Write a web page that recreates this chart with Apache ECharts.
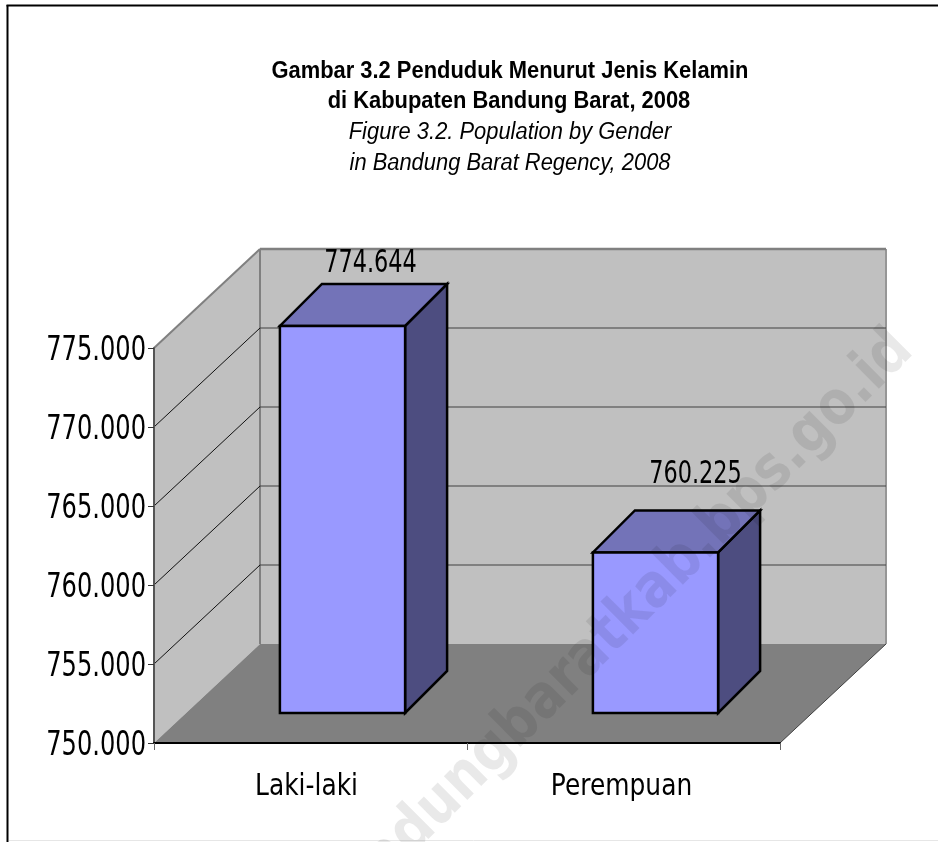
<!DOCTYPE html>
<html>
<head>
<meta charset="utf-8">
<style>html,body{margin:0;padding:0;background:#fff}#main{width:938px;height:842px}</style>
</head>
<body>
<div id="main"></div>
<script src="https://cdn.jsdelivr.net/npm/echarts@6/dist/echarts.min.js"></script>
<script>
var categories = ['Laki-laki', 'Perempuan'];
var values = [774644, 760225];
var yTicks = [750000, 755000, 760000, 765000, 770000, 775000];

// kedalaman semu 3D
var DX = 106, DY = 99;
var BAR_DX0 = 32, BAR_DY0 = 30, BAR_DX1 = 74, BAR_DY1 = 72;
var BAR_SHRINK = 0.994;
var LABEL_FONT = '"DejaVu Sans"';
// geser label nilai dari tengah tepi belakang batang
var VALUE_LABEL_SHIFT = [[-14, -20], [-2, -36]];

function fmt(v) {
  return String(v).replace(/\B(?=(\d{3})+$)/g, '.');
}
function poly(points, fill, stroke, lw) {
  return {
    type: 'polygon',
    shape: { points: points },
    style: { fill: fill, stroke: stroke || null, lineWidth: lw || 0, lineJoin: 'miter' }
  };
}
function line(a, b, color, lw) {
  return {
    type: 'line',
    shape: { x1: a[0], y1: a[1], x2: b[0], y2: b[1] },
    style: { stroke: color, lineWidth: lw }
  };
}
function shift(p, dx, dy) {
  return [p[0] + dx, p[1] - dy];
}
// teks dipersempit, font Narrow tidak tersedia
function squeezed(text, x, y, font, sx, align) {
  return {
    type: 'text',
    x: x,
    y: y,
    scaleX: sx,
    style: { text: text, font: font, fill: '#000', align: align || 'center', verticalAlign: 'middle' }
  };
}

// dinding dan lantai
function renderWalls(params, api) {
  var c = params.coordSys;
  var left = c.x, right = c.x + c.width, top = c.y, bottom = c.y + c.height;
  var kids = [];
  var fl = [left, bottom], fr = [right, bottom], tl = [left, top];
  kids.push(poly([fl, tl, shift(tl, DX, DY), shift(fl, DX, DY)], '#c0c0c0'));
  kids.push(poly([shift(fl, DX, DY), shift(tl, DX, DY), shift([right, top], DX, DY), shift(fr, DX, DY)], '#c0c0c0'));
  kids.push(line(shift(tl, DX, DY), shift(fl, DX, DY), '#808080', 2));
  kids.push(line(shift([right, top], DX, DY), shift(fr, DX, DY), '#969696', 2));
  kids.push(poly([fl, fr, shift(fr, DX, DY), shift(fl, DX, DY)], '#808080'));
  yTicks.forEach(function (t) {
    if (t === yTicks[0] || t === yTicks[yTicks.length - 1]) return;
    var y = api.coord([0, t])[1];
    kids.push(line([left, y], shift([left, y], DX, DY), '#111', 1));
    kids.push(line(shift([left, y], DX, DY), shift([right, y], DX, DY), '#404040', 1));
  });
  kids.push(line(tl, shift(tl, DX, DY), '#808080', 2));
  kids.push(line(shift(tl, DX, DY), shift([right, top], DX, DY), '#808080', 2.5));
  kids.push(line(fr, shift(fr, DX, DY), '#404040', 1));
  return { type: 'group', children: kids };
}

function renderBar(params, api) {
  var idx = api.value(0);
  var base = api.coord([idx, yTicks[0]]);
  var tipY = base[1] + (api.coord([idx, api.value(1)])[1] - base[1]) * BAR_SHRINK;
  var half = api.size([1, 0])[0] * 0.2;
  var xl = base[0] - half, xr = base[0] + half;
  var f = function (x, y, d) {
    return d ? [x + BAR_DX1, y - BAR_DY1] : [x + BAR_DX0, y - BAR_DY0];
  };
  var bk = '#000';
  var backL = f(xl, tipY, 1), backR = f(xr, tipY, 1);
  var s = VALUE_LABEL_SHIFT[idx];
  return {
    type: 'group',
    children: [
      poly([f(xr, base[1]), f(xr, tipY), backR, f(xr, base[1], 1)], '#4d4d80', bk, 2.5),
      poly([f(xl, tipY), f(xr, tipY), backR, backL], '#7373b8', bk, 2.5),
      poly([f(xl, base[1]), f(xr, base[1]), f(xr, tipY), f(xl, tipY)], '#9999ff', bk, 2.5),
      squeezed(fmt(api.value(1)), (backL[0] + backR[0]) / 2 + s[0], backR[1] + s[1], '32px ' + LABEL_FONT, 0.7)
    ]
  };
}

// label sumbu y
function renderYLabel(params, api) {
  var p = api.coord([0, api.value(0)]);
  return squeezed(fmt(api.value(0)), params.coordSys.x - 8, p[1] + 3, '34px ' + LABEL_FONT, 0.71, 'right');
}
// label kategori
function renderXLabel(params, api) {
  var p = api.coord([api.value(0), yTicks[0]]);
  return squeezed(categories[api.value(0)], p[0] - 4 + api.value(0) * 2, 787, '30px ' + LABEL_FONT, 0.83);
}

var myChart = echarts.init(document.getElementById('main'), null, { renderer: 'canvas' });
myChart.setOption({
  animation: false,
  backgroundColor: '#fff',
  grid: { left: 154, right: 158, top: 348, bottom: 99, containLabel: false },
  xAxis: {
    type: 'category',
    data: categories,
    axisLine: { lineStyle: { color: '#000', width: 2 } },
    axisTick: { show: true, length: 7, lineStyle: { color: '#666', width: 1 } },
    axisLabel: { show: false },
    z: 5
  },
  yAxis: {
    type: 'value',
    min: 750000,
    max: 775000,
    interval: 5000,
    axisLine: { show: true, lineStyle: { color: '#555', width: 2 } },
    axisTick: { show: true, length: 6, lineStyle: { color: '#333', width: 1 } },
    splitLine: { show: false },
    axisLabel: { show: false },
    z: 5
  },
  series: [
    {
      type: 'custom',
      renderItem: renderWalls,
      data: [[0, yTicks[0]]],
      clip: false,
      silent: true,
      z: 1
    },
    {
      type: 'custom',
      renderItem: renderBar,
      data: categories.map(function (c, i) { return [i, values[i]]; }),
      encode: { x: 0, y: 1 },
      clip: false,
      z: 2
    },
    {
      type: 'custom',
      renderItem: renderYLabel,
      data: yTicks.map(function (t) { return [t]; }),
      encode: { y: 0 },
      clip: false,
      silent: true,
      z: 6
    },
    {
      type: 'custom',
      renderItem: renderXLabel,
      data: categories.map(function (c, i) { return [i]; }),
      encode: { x: 0 },
      clip: false,
      silent: true,
      z: 6
    }
  ],
  graphic: [
    { type: 'line', shape: { x1: 6.5, y1: 5.5, x2: 938, y2: 5.5 }, style: { stroke: '#000', lineWidth: 2 }, silent: true },
    { type: 'line', shape: { x1: 7.5, y1: 5, x2: 7.5, y2: 842 }, style: { stroke: '#000', lineWidth: 2 }, silent: true },
    { type: 'line', shape: { x1: 9, y1: 840.5, x2: 938, y2: 840.5 }, style: { stroke: '#e6e6e6', lineWidth: 1 }, silent: true },
    { type: 'text', x: 510, y: 72, scaleX: 0.952, style: { text: 'Gambar 3.2 Penduduk Menurut Jenis Kelamin', font: 'bold 23px "Liberation Sans"', fill: '#000', align: 'center', verticalAlign: 'middle' }, z: 10 },
    { type: 'text', x: 509, y: 102, scaleX: 0.952, style: { text: 'di Kabupaten Bandung Barat, 2008', font: 'bold 23px "Liberation Sans"', fill: '#000', align: 'center', verticalAlign: 'middle' }, z: 10 },
    { type: 'text', x: 510, y: 133, scaleX: 0.952, style: { text: 'Figure 3.2. Population by Gender', font: 'italic 23px "Liberation Sans"', fill: '#000', align: 'center', verticalAlign: 'middle' }, z: 10 },
    { type: 'text', x: 510, y: 164, scaleX: 0.952, style: { text: 'in Bandung Barat Regency, 2008', font: 'italic 23px "Liberation Sans"', fill: '#000', align: 'center', verticalAlign: 'middle' }, z: 10 },
    { type: 'text', x: 613, y: 632, rotation: Math.PI / 4, scaleX: 0.86, style: { text: 'bandungbaratkab.bps.go.id', font: 'bold 61px "DejaVu Sans"', fill: 'rgba(0,0,0,0.085)', align: 'center', verticalAlign: 'middle' }, z: 20, silent: true }
  ]
});
</script>
</body>
</html>
